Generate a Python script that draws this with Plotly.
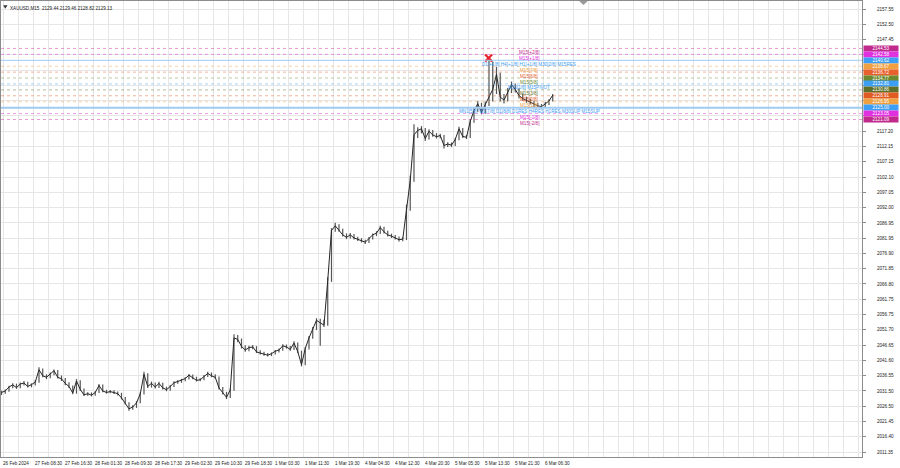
import plotly.graph_objects as go

# ---------------- data ----------------
closes = [
    2031.0, 2031.5, 2032.8, 2033.5, 2032.6, 2033.8, 2034.1, 2033.0, 2033.6, 2034.4,
    2038.5, 2036.5, 2036.0, 2037.0, 2038.2, 2036.0, 2035.5, 2034.0, 2033.0, 2030.8,
    2034.8, 2032.0, 2030.2, 2030.6, 2030.1, 2031.0, 2033.3, 2031.5, 2031.0, 2031.3,
    2031.0, 2030.6, 2029.2, 2027.5, 2025.6, 2026.2, 2027.6, 2030.5, 2037.0, 2033.0,
    2034.0, 2032.8, 2034.0, 2032.5, 2031.9, 2033.0, 2034.2, 2034.6, 2035.0, 2035.6,
    2036.7, 2035.9, 2035.0, 2035.2, 2036.4, 2037.3, 2036.5, 2036.0, 2032.5, 2030.8,
    2029.4, 2031.8, 2049.0, 2048.5, 2046.2, 2045.0, 2045.8, 2046.0, 2044.4, 2044.0,
    2043.6, 2043.3, 2043.8, 2044.6, 2045.0, 2046.4, 2046.0, 2045.2, 2047.3, 2044.5,
    2040.2, 2045.5, 2049.0, 2052.0, 2054.8, 2054.0, 2053.2, 2068.0, 2084.5, 2086.0,
    2084.5, 2083.0, 2082.2, 2083.0, 2082.0, 2081.5, 2081.0, 2080.6, 2081.8, 2083.0,
    2083.6, 2085.4, 2084.0, 2083.0, 2082.6, 2082.0, 2081.4, 2081.6, 2092.0, 2101.0,
    2116.0, 2117.5, 2118.0, 2114.8, 2117.2, 2116.0, 2115.4, 2115.8, 2112.5, 2113.0,
    2112.6, 2114.5, 2118.0, 2115.5, 2115.2, 2120.5, 2124.0, 2126.3, 2123.5, 2126.0,
    2128.0, 2131.0, 2136.0, 2128.5, 2127.5, 2130.2, 2132.6, 2131.0, 2129.0, 2128.0,
    2127.4, 2126.8, 2126.0, 2125.6, 2125.3, 2126.3, 2127.2, 2129.13,
]
highs = [
    2031.6, 2032.0, 2033.2, 2034.0, 2033.9, 2034.3, 2034.8, 2034.5, 2034.0, 2035.0,
    2039.3, 2038.9, 2037.0, 2037.6, 2038.6, 2038.4, 2036.6, 2035.8, 2034.4, 2033.3,
    2035.4, 2035.0, 2032.3, 2031.1, 2031.0, 2031.4, 2033.8, 2033.6, 2031.9, 2031.8,
    2031.7, 2031.3, 2030.9, 2029.5, 2027.8, 2026.8, 2028.1, 2031.0, 2037.8, 2037.3,
    2034.6, 2034.3, 2034.5, 2034.2, 2032.9, 2033.5, 2034.7, 2035.0, 2035.5, 2036.0,
    2037.1, 2036.9, 2036.2, 2035.7, 2036.8, 2037.8, 2037.6, 2037.0, 2036.3, 2032.8,
    2031.2, 2032.3, 2050.2, 2050.0, 2048.8, 2046.6, 2046.4, 2046.7, 2046.3, 2044.9,
    2044.4, 2044.0, 2044.2, 2045.0, 2045.5, 2046.9, 2046.8, 2046.3, 2047.9, 2047.5,
    2044.8, 2046.0, 2049.6, 2052.6, 2055.5, 2055.3, 2055.0, 2069.0, 2085.2, 2087.0,
    2086.5, 2085.0, 2083.5, 2083.6, 2083.3, 2082.4, 2081.9, 2081.4, 2082.3, 2083.5,
    2084.2, 2086.0, 2085.7, 2084.4, 2083.4, 2083.0, 2082.5, 2082.2, 2093.0, 2102.5,
    2119.5, 2118.5, 2118.9, 2118.3, 2117.9, 2117.6, 2116.6, 2116.4, 2116.0, 2113.6,
    2113.5, 2115.0, 2118.7, 2118.3, 2116.0, 2121.2, 2124.8, 2127.2, 2126.6, 2127.0,
    2141.4, 2140.2, 2138.5, 2136.5, 2129.5, 2131.5, 2133.6, 2133.0, 2131.4, 2129.6,
    2128.6, 2128.0, 2127.2, 2126.6, 2126.2, 2126.9, 2127.8, 2129.46,
]
lows = [
    2030.2, 2030.6, 2031.2, 2032.4, 2032.2, 2032.4, 2033.3, 2032.6, 2032.7, 2033.3,
    2034.2, 2036.0, 2035.4, 2035.7, 2036.7, 2035.6, 2034.8, 2033.4, 2032.5, 2030.4,
    2030.6, 2031.5, 2029.8, 2029.9, 2029.7, 2029.9, 2030.8, 2031.1, 2030.6, 2030.7,
    2030.5, 2030.0, 2028.7, 2027.0, 2025.0, 2025.3, 2025.9, 2027.4, 2030.3, 2032.5,
    2032.6, 2032.3, 2032.5, 2032.0, 2031.4, 2031.6, 2032.8, 2033.9, 2034.2, 2034.7,
    2035.3, 2035.4, 2034.6, 2034.7, 2035.0, 2036.1, 2036.0, 2035.6, 2032.0, 2030.3,
    2028.8, 2029.2, 2031.6, 2047.6, 2045.5, 2044.4, 2044.6, 2045.3, 2044.0, 2043.5,
    2043.1, 2042.9, 2043.0, 2043.5, 2044.2, 2044.8, 2045.5, 2044.8, 2045.0, 2044.0,
    2039.6, 2040.0, 2045.2, 2048.7, 2051.6, 2046.4, 2052.6, 2053.0, 2067.5, 2084.0,
    2084.0, 2082.5, 2081.6, 2081.8, 2081.5, 2081.0, 2080.5, 2080.0, 2080.3, 2081.5,
    2082.6, 2083.3, 2083.5, 2082.5, 2082.0, 2081.5, 2080.8, 2080.9, 2081.3, 2091.0,
    2100.5, 2115.0, 2116.5, 2114.0, 2114.5, 2115.4, 2114.8, 2114.9, 2111.5, 2112.0,
    2112.0, 2112.3, 2114.2, 2115.0, 2114.6, 2115.0, 2120.0, 2123.6, 2122.8, 2123.0,
    2125.5, 2127.0, 2129.5, 2127.0, 2126.4, 2127.0, 2129.8, 2130.0, 2128.0, 2127.2,
    2126.6, 2126.0, 2125.2, 2124.9, 2124.6, 2125.0, 2125.9, 2127.0,
]

time_labels = ["26 Feb 2024", "27 Feb 08:30", "27 Feb 16:30", "28 Feb 01:30", "28 Feb 09:30",
               "28 Feb 17:30", "29 Feb 02:30", "29 Feb 10:30", "29 Feb 18:30", "1 Mar 03:30",
               "1 Mar 11:30", "1 Mar 19:30", "4 Mar 04:30", "4 Mar 12:30", "4 Mar 20:30",
               "5 Mar 05:30", "5 Mar 13:30", "5 Mar 21:30", "6 Mar 06:30"]

price_ticks = [2011.35, 2016.40, 2021.45, 2026.50, 2031.50, 2036.55, 2041.60, 2046.65, 2051.70,
               2056.75, 2061.75, 2066.80, 2071.85, 2076.90, 2081.95, 2086.95, 2092.00, 2097.05,
               2102.10, 2107.15, 2112.15, 2117.20, 2122.25, 2127.30, 2132.35, 2137.35, 2142.40,
               2147.45, 2152.50, 2157.55]
# tick labels hidden behind the level price boxes
hidden_ticks = [2122.25, 2127.30, 2132.35, 2137.35, 2142.40]

level_values = [2144.53, 2142.58, 2140.62, 2138.67, 2136.72, 2134.77, 2132.81, 2130.86,
                2128.91, 2126.95, 2125.00, 2123.05, 2121.09]
level_labels = ["M15[+2/8]", "M15[+1/8]", "D1[+1/8] H4[+1/8] H1[+1/8] M30[2/8] M15RES",
                "M15[7/8]", "M15[6/8]", "M15[5/8]", "M30[1/8] M15PIVOT", "M15[3/8]",
                "M15[2/8]", "M15[1/8]",
                "MN1[5/8] W1[7/8] D1[8/8] D1RES H4RES H1RES M30SUP M15SUP",
                "M15[-1/8]", "M15[-2/8]"]
level_colors = ["#c02a8c", "#e030e0", "#3d9ef5", "#f0a040", "#e8602e", "#6b8a30", "#3d9ef5",
                "#5f6f2a", "#e05a22", "#f0a040", "#3d9ef5", "#e030e0", "#c02a8c"]
level_styles = ["dot", "dot", "solid", "dot", "dot", "dot", "dot", "dot", "dot", "dot",
                "solid", "dot", "dot"]

header_text = "XAUUSD,M15  2129.44 2129.46 2128.82 2129.13"
marker_point = (129.9, 2141.4)

# ---------------- figure ----------------
x_idx = list(range(len(closes)))

FONT = "Liberation Sans"
FS = 4.6

wx, wy = [], []
for i, (h, l) in enumerate(zip(highs, lows)):
    wx += [i, i, None]
    wy += [l, h, None]

fig = go.Figure()
fig.add_trace(go.Scatter(x=wx, y=wy, mode="lines", line=dict(color="#555555", width=1.2),
                         showlegend=False, hoverinfo="skip"))
fig.add_trace(go.Scatter(x=x_idx, y=closes, mode="lines", line=dict(color="#262626", width=1.0),
                         showlegend=False, hoverinfo="skip"))

fig.add_trace(go.Scatter(
    x=[marker_point[0]], y=[marker_point[1]], mode="markers",
    marker=dict(symbol="x-thin", size=7, line=dict(color="#e8202a", width=2.2)),
    showlegend=False, hoverinfo="skip",
))

shapes = []
annotations = []
for v, lab, col, sty in zip(level_values, level_labels, level_colors, level_styles):
    if sty == "solid":
        lw = 2 if abs(v - 2125.0) < 0.01 else 1
        shapes.append(dict(type="line", xref="paper", x0=0, x1=1, yref="y", y0=v, y1=v,
                           line=dict(color="#9fcaf2", width=lw), layer="above"))
    else:
        shapes.append(dict(type="line", xref="paper", x0=0, x1=1, yref="y", y0=v, y1=v,
                           line=dict(color=col, width=1, dash="dot"), opacity=0.45,
                           layer="above"))
    annotations.append(dict(x=140.8, y=v, xref="x", yref="y", text=lab, showarrow=False,
                            xanchor="center", yanchor="top", yshift=0.5,
                            font=dict(family=FONT, size=FS, color=col)))
    annotations.append(dict(x=1, y=v, xref="paper", yref="y", text=f"{v:.2f}", showarrow=False,
                            xanchor="left", yanchor="middle", xshift=1, width=34, height=5,
                            bgcolor=col, borderpad=0, align="center",
                            font=dict(family=FONT, size=FS, color="#ffffff")))

tick_pos = [8 * k + 0.45 for k in range(len(time_labels))]
tick_pos[0] = 0
for p, t in zip(tick_pos, time_labels):
    annotations.append(dict(x=p, y=0, xref="x", yref="paper", text=t, showarrow=False,
                            xanchor="left", yanchor="top", yshift=-2,
                            font=dict(family=FONT, size=FS, color="#222222")))

annotations.append(dict(x=0, y=1, xref="paper", yref="paper", text=header_text, showarrow=False,
                        xanchor="left", yanchor="top", xshift=7, yshift=-3,
                        font=dict(family=FONT, size=FS, color="#222222")))
shapes.append(dict(type="path", xref="paper", yref="paper",
                   path="M 0.0025,0.9905 L 0.0075,0.9905 L 0.005,0.983 Z",
                   fillcolor="#333333", line=dict(width=0)))
shapes.append(dict(type="path", xref="paper", yref="paper",
                   path="M 0.6715,1 L 0.6815,1 L 0.6765,0.991 Z",
                   fillcolor="#9a9a9a", line=dict(width=0)))

tick_text = ["" if any(abs(v - h) < 1e-6 for h in hidden_ticks) else f"{v:.2f}"
             for v in price_ticks]

fig.update_layout(
    width=900, height=468,
    margin=dict(l=1, r=38, t=1, b=11),
    paper_bgcolor="#ffffff", plot_bgcolor="#ffffff",
    shapes=shapes, annotations=annotations,
    font=dict(family=FONT, size=FS, color="#222222"),
    xaxis=dict(range=[-0.13, 229.47],
               tick0=0.45, dtick=4, showticklabels=False, ticks="",
               showgrid=True, gridcolor="#e6e6e6", gridwidth=1, zeroline=False,
               showline=True, linecolor="#8c8c8c", linewidth=1, mirror=True),
    yaxis=dict(range=[2009.70, 2160.19], side="right",
               tickvals=price_ticks, ticktext=tick_text,
               ticks="outside", ticklen=3, tickcolor="#8c8c8c",
               ticklabelstandoff=10,
               tickfont=dict(family=FONT, size=FS, color="#222222"),
               showgrid=True, gridcolor="#e6e6e6", gridwidth=1, zeroline=False,
               showline=True, linecolor="#8c8c8c", linewidth=1, mirror=True),
)

fig.write_html("out.html", config={"displayModeBar": False},
               post_script="document.body.style.margin='0';document.body.style.padding='0';")
